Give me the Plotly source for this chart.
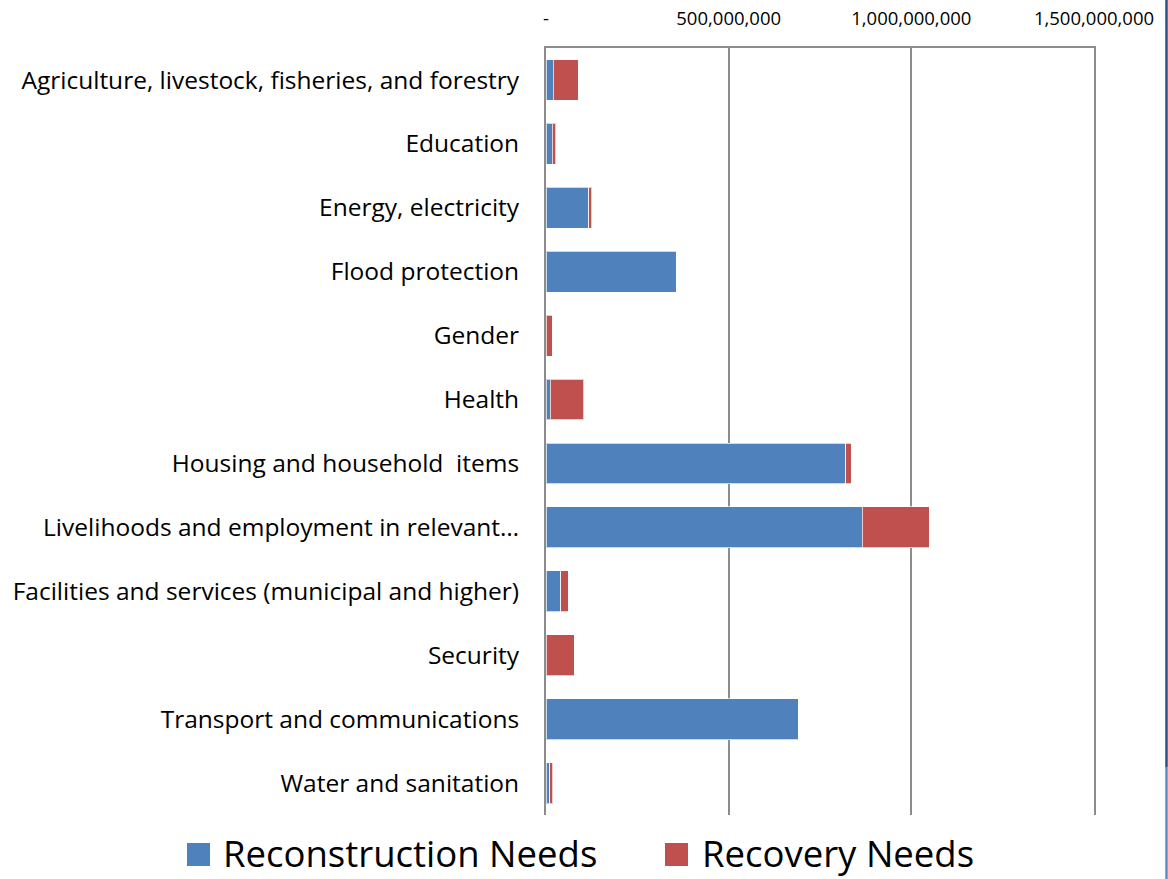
import plotly.graph_objects as go

# Sector needs (USD)
sectors = [
    "Agriculture, livestock, fisheries, and forestry",
    "Education",
    "Energy, electricity",
    "Flood protection",
    "Gender",
    "Health",
    "Housing and household  items",
    "Livelihoods and employment in relevant\u2026",
    "Facilities and services (municipal and higher)",
    "Security",
    "Transport and communications",
    "Water and sanitation",
]
reconstruction_needs = [20e6, 17e6, 117e6, 357e6, 0, 11e6, 820e6, 865e6, 41e6, 0, 691e6, 10e6]
recovery_needs = [68e6, 10e6, 8e6, 0, 17e6, 92e6, 16e6, 184e6, 20e6, 77e6, 0, 8e6]

tick_values = [0, 500e6, 1000e6, 1500e6]
tick_labels = ["-", "500,000,000", "1,000,000,000", "1,500,000,000"]

BLUE = "#4f81bd"
RED = "#c0504d"
GRID = "#8c8c8c"
FONT = "Open Sans"

W, H = 1168, 879
L, R, T, B = 546, 74, 48, 64
PW, PH = W - L - R, H - T - B


def px_x(x):
    return (x - L) / PW


def px_y(y):
    return (H - B - y) / PH


fig = go.Figure()
fig.add_trace(go.Bar(
    y=sectors, x=reconstruction_needs, orientation="h", name="Reconstruction Needs",
    marker=dict(color=BLUE, line=dict(color="rgba(255,255,255,0.7)", width=1)),
    showlegend=False,
))
fig.add_trace(go.Bar(
    y=sectors, x=recovery_needs, orientation="h", name="Recovery Needs",
    marker=dict(color=RED, line=dict(color="rgba(255,255,255,0.7)", width=1)),
    showlegend=False,
))

fig.update_layout(
    width=W, height=H,
    margin=dict(l=L, r=R, t=T, b=B, pad=0, autoexpand=False),
    barmode="stack",
    bargap=0.36,
    plot_bgcolor="white",
    paper_bgcolor="white",
    font=dict(family=FONT, color="black"),
    xaxis=dict(
        side="top", range=[0, 1.5e9], automargin=False,
        tickvals=tick_values, ticktext=tick_labels,
        tickfont=dict(size=18.5, family=FONT),
        showgrid=True, gridcolor=GRID, gridwidth=1.5,
        zeroline=False,
        showline=True, linecolor=GRID, linewidth=1.5,
        ticks="", ticklabelstandoff=14,
        fixedrange=True,
    ),
    yaxis=dict(
        autorange="reversed", automargin=False,
        categoryorder="array", categoryarray=sectors,
        tickfont=dict(size=24.5, family=FONT),
        showline=True, mirror=True, linecolor=GRID, linewidth=2,
        ticks="", ticklabelstandoff=20,
        showgrid=False, zeroline=False,
    ),
)

# Legend drawn with swatches and text
legend_items = [
    ("Reconstruction Needs", BLUE, 187, 221),
    ("Recovery Needs", RED, 665, 700),
]
for text, color, sx, tx in legend_items:
    fig.add_shape(
        type="rect", xref="paper", yref="paper",
        x0=px_x(sx), x1=px_x(sx + 23), y0=px_y(866), y1=px_y(843),
        fillcolor=color, line=dict(width=0),
    )
    fig.add_annotation(
        xref="paper", yref="paper", x=px_x(tx), y=px_y(853),
        xanchor="left", yanchor="middle", showarrow=False,
        text=text, font=dict(size=36.5, family=FONT, color="black"),
    )

# Slide border at the right edge
fig.add_shape(type="line", xref="paper", yref="paper",
              x0=px_x(1166.5), x1=px_x(1166.5), y0=px_y(0), y1=px_y(767),
              line=dict(color="#24518a", width=2.5))
fig.add_shape(type="line", xref="paper", yref="paper",
              x0=px_x(1166.5), x1=px_x(1166.5), y0=px_y(767), y1=px_y(879),
              line=dict(color="#5b8cc8", width=2.5))

fig.write_html("out.html")
